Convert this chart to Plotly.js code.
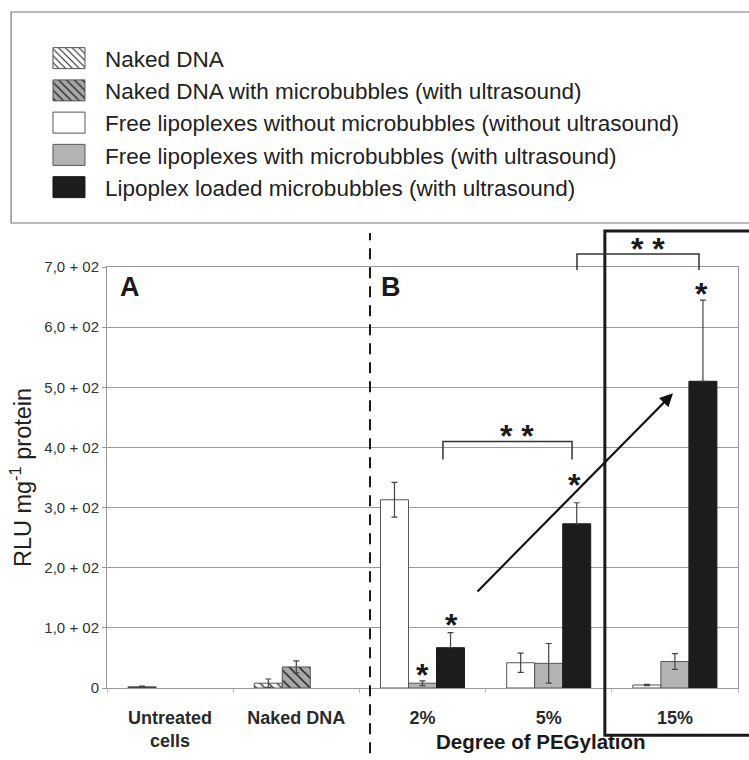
<!DOCTYPE html>
<html>
<head>
<meta charset="utf-8">
<script src="https://cdn.plot.ly/plotly-3.0.1.min.js"></script>
<style>body{margin:0;padding:0;background:#fff;}#chart{width:749px;height:760px;}</style>
</head>
<body>
<div id="chart"></div>
<script>
// ---- data ----
var categories = ['Untreated<br>cells', 'Naked DNA', '2%', '5%', '15%'];
var pegCategories = ['2%', '5%', '15%'];

var untreatedY = [2];
var untreatedErr = [1];

var nakedDnaY = [8];
var nakedDnaErr = [7];

var nakedDnaMbY = [35];
var nakedDnaMbErr = [10];

var freeLipoNoMbY = [313, 42, 5];
var freeLipoNoMbErr = [29, 16, 1];

var freeLipoMbY = [8, 41, 44];
var freeLipoMbErr = [4, 33, 13];

var loadedMbY = [67, 273, 510];
var loadedMbErrPlus = [25, 35, 135];
var loadedMbErrMinus = [0, 0, 0];

var yTickVals = [0, 100, 200, 300, 400, 500, 600, 700];
var yTickText = ['0', '1,0 + 02', '2,0 + 02', '3,0 + 02', '4,0 + 02', '5,0 + 02', '6,0 + 02', '7,0 + 02'];

// ---- styling ----
var FONT = 'Liberation Sans, Arial, Helvetica, sans-serif';
var BW = 0.222;              // bar width in category units
var OFF = [-0.333, -0.111, 0.111]; // slot offsets
var edge = {color: '#555', width: 1};
var errStyle = function (arr) {
  return {type: 'data', array: arr, visible: true, color: '#444', thickness: 1.2, width: 3};
};

var traces = [
  {type: 'bar', x: ['Untreated<br>cells'], y: untreatedY, name: 'Untreated cells', showlegend: false,
   offset: OFF[0], width: BW, marker: {color: '#2a2a2a', line: edge}, error_y: errStyle(untreatedErr)},
  {type: 'bar', x: ['Naked DNA'], y: nakedDnaY, name: 'Naked DNA',
   offset: OFF[0], width: BW,
   marker: {color: '#ffffff', line: edge, pattern: {shape: '\\', size: 6, solidity: 0.22, fgcolor: '#222', bgcolor: '#ffffff'}},
   error_y: errStyle(nakedDnaErr)},
  {type: 'bar', x: ['Naked DNA'], y: nakedDnaMbY, name: 'Naked DNA with microbubbles (with ultrasound)',
   offset: OFF[1], width: BW,
   marker: {color: '#a8a8a8', line: edge, pattern: {shape: '\\', size: 7, solidity: 0.22, fgcolor: '#222', bgcolor: '#a8a8a8'}},
   error_y: errStyle(nakedDnaMbErr)},
  {type: 'bar', x: pegCategories, y: freeLipoNoMbY, name: 'Free lipoplexes without microbubbles (without ultrasound)',
   offset: OFF[0], width: BW, marker: {color: '#ffffff', line: edge}, error_y: errStyle(freeLipoNoMbErr)},
  {type: 'bar', x: pegCategories, y: freeLipoMbY, name: 'Free lipoplexes with microbubbles (with ultrasound)',
   offset: OFF[1], width: BW, marker: {color: '#b3b3b3', line: edge}, error_y: errStyle(freeLipoMbErr)},
  {type: 'bar', x: pegCategories, y: loadedMbY, name: 'Lipoplex loaded microbubbles (with ultrasound)',
   offset: OFF[2], width: BW, marker: {color: '#1c1c1c', line: {color: '#1c1c1c', width: 1}},
   error_y: {type: 'data', symmetric: false, array: loadedMbErrPlus, arrayminus: loadedMbErrMinus, visible: true,
             color: '#444', thickness: 1.2, width: 3}}
];

function star(x, y, txt, yref) {
  return {x: x, y: y, xref: 'x', yref: yref || 'y', xanchor: 'center', yanchor: 'middle',
          text: txt, showarrow: false,
          font: {family: FONT, size: 32, color: '#1a1a1a', weight: 'bold'}, yshift: -7};
}

var layout = {
  width: 749, height: 760,
  margin: {l: 107, r: 11, t: 267, b: 72, autoexpand: false},
  paper_bgcolor: '#ffffff', plot_bgcolor: '#ffffff',
  barmode: 'overlay',
  showlegend: true,
  legend: {x: -0.1173, y: 1.5463, xanchor: 'left', yanchor: 'top', bgcolor: 'rgba(0,0,0,0)', borderwidth: 0,
           font: {family: FONT, size: 22.5, color: '#222'}, traceorder: 'normal', itemwidth: 62},
  xaxis: {type: 'category', categoryorder: 'array', categoryarray: categories, automargin: false,
          range: [-0.5, 4.5], showgrid: false, zeroline: false,
          showline: true, linecolor: '#999', linewidth: 1, mirror: true,
          ticks: 'outside', tickson: 'boundaries', ticklen: 4, tickcolor: '#bbb',
          ticklabelstandoff: 13,
          tickfont: {family: FONT, size: 18, color: '#2a2a2a', weight: 'bold'}},
  yaxis: {range: [0, 700], tickvals: yTickVals, ticktext: yTickText, automargin: false,
          showgrid: true, gridcolor: '#9a9a9a', gridwidth: 1, zeroline: false,
          showline: true, linecolor: '#999', linewidth: 1, mirror: true,
          ticks: 'outside', ticklen: 4, tickcolor: '#999',
          tickfont: {family: FONT, size: 15, color: '#333'},
          title: {text: 'RLU mg<sup>-1</sup> protein', font: {family: FONT, size: 23.5, color: '#222'}, standoff: 6}},
  shapes: [
    // legend frame
    {type: 'rect', xref: 'paper', yref: 'paper', x0: -0.152, x1: 1.05, y0: 1.1045, y1: 1.6057,
     line: {color: '#777', width: 1.2}, fillcolor: 'rgba(0,0,0,0)'},
    // dashed separator between A and B
    {type: 'line', xref: 'x', yref: 'paper', x0: 1.584, x1: 1.584, y0: -0.2, y1: 1.081,
     line: {color: '#1a1a1a', width: 2, dash: '11px,8px'}},
    // box around 15%
    {type: 'rect', xref: 'paper', yref: 'paper', x0: 0.789, x1: 1.1, y0: -0.112, y1: 1.0855,
     line: {color: '#1a1a1a', width: 3}, fillcolor: 'rgba(0,0,0,0)'},
    // bracket 2% vs 5%
    {type: 'path', xref: 'x', yref: 'y', path: 'M2.162,380 L2.162,410 L3.185,410 L3.185,380',
     line: {color: '#333', width: 1.5}},
    // bracket 5% vs 15%
    {type: 'path', xref: 'x', yref: 'paper', path: 'M3.224,0.993 L3.224,1.031 L4.191,1.031 L4.191,0.993',
     line: {color: '#333', width: 1.5}}
  ],
  annotations: [
    {x: 0.036, y: 0.952, xref: 'paper', yref: 'paper', xanchor: 'center', yanchor: 'middle', text: 'A', showarrow: false,
     font: {family: FONT, size: 27, color: '#1a1a1a', weight: 'bold'}},
    {x: 0.45, y: 0.952, xref: 'paper', yref: 'paper', xanchor: 'center', yanchor: 'middle', text: 'B', showarrow: false,
     font: {family: FONT, size: 27, color: '#1a1a1a', weight: 'bold'}},
    {x: 0.688, y: -0.128, xref: 'paper', yref: 'paper', xanchor: 'center', yanchor: 'middle', text: 'Degree of PEGylation', showarrow: false,
     font: {family: FONT, size: 20.5, color: '#1a1a1a', weight: 'bold'}},
    star(2.0, 33, '*'),
    star(2.226, 117, '*'),
    star(3.208, 350, '*'),
    star(4.207, 667, '*'),
    star(2.749, 430, '* *'),
    star(3.787, 1.059, '* *', 'paper'),
    {x: 3.985, y: 490, ax: 2.424, ay: 158, xref: 'x', yref: 'y', axref: 'x', ayref: 'y',
     text: '', showarrow: true, arrowhead: 2, arrowsize: 1.2, arrowwidth: 2.2, arrowcolor: '#111'}
  ]
};

function fixLegend() {
  // enlarge legend swatches to the reference's wide rectangles
  document.querySelectorAll('#chart .legend .legendpoints path').forEach(function (p) {
    p.setAttribute('d', 'M16,10.5H-16V-10.5H16Z');
  });
}

var gd = document.getElementById('chart');
Plotly.newPlot(gd, traces, layout, {staticPlot: true, displayModeBar: false}).then(function () {
  fixLegend();
  gd.on('plotly_afterplot', fixLegend);
  setTimeout(fixLegend, 50);
});
</script>
</body>
</html>
